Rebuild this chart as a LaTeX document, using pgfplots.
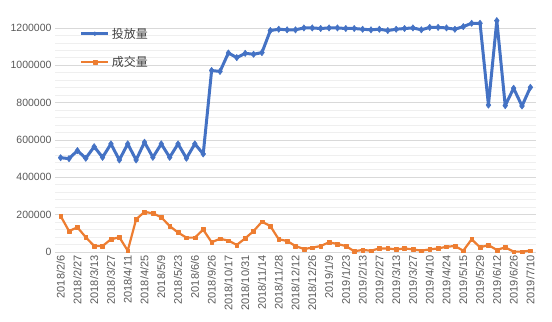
\documentclass[border=0pt]{standalone}
\usepackage{pgfplots}
\usepackage{pgfplotstable}
\pgfplotsset{compat=1.18}
\usepackage{fontspec}
\setmainfont{Liberation Sans}
\newfontfamily\cjk{Noto Sans CJK SC}
\definecolor{exblue}{HTML}{4472C4}
\definecolor{exorange}{HTML}{ED7D31}
\definecolor{majgrid}{HTML}{D9D9D9}
\definecolor{mingrid}{HTML}{EFEFEF}
\definecolor{txt}{HTML}{595959}
\definecolor{legtxt}{HTML}{404040}

\pgfplotstableread{
x blue orange
1 505000 193000
2 500000 112000
3 543000 132000
4 502000 79000
5 564000 32000
6 507000 32000
7 579000 68000
8 493000 79000
9 579000 7000
10 493000 175000
11 588000 215000
12 507000 207000
13 579000 186000
14 507000 139000
15 579000 104000
16 502000 77000
17 579000 77000
18 525000 120000
19 972000 52000
20 967000 71000
21 1066000 61000
22 1041000 38000
23 1064000 73000
24 1059000 112000
25 1068000 162000
26 1186000 139000
27 1193000 68000
28 1190000 59000
29 1190000 32000
30 1200000 16000
31 1200000 23000
32 1197000 32000
33 1200000 52000
34 1200000 43000
35 1197000 32000
36 1197000 4000
37 1193000 11000
38 1190000 7000
39 1193000 19000
40 1186000 19000
41 1193000 14000
42 1197000 19000
43 1200000 14000
44 1190000 7000
45 1203000 14000
46 1203000 19000
47 1200000 28000
48 1193000 32000
49 1207000 7000
50 1225000 68000
51 1225000 25000
52 787000 37000
53 1239000 11000
54 784000 25000
55 877000 2000
56 782000 2000
57 882000 7000
}\datatable

\begin{document}
\begin{tikzpicture}
\begin{axis}[
  name=ax,
  scale only axis,
  width=481bp, height=239bp,
  xmin=0.33, xmax=57.67,
  ymin=0, ymax=1280000,
  xtick={1,3,...,57},
  xticklabels={2018/2/6,2018/2/27,2018/3/13,2018/3/27,2018/4/11,2018/4/25,2018/5/9,2018/5/23,2018/6/6,2018/9/26,2018/10/17,2018/10/31,2018/11/14,2018/11/28,2018/12/12,2018/12/26,2019/1/9,2019/1/23,2019/2/13,2019/2/27,2019/3/13,2019/3/27,2019/4/10,2019/4/24,2019/5/15,2019/5/29,2019/6/12,2019/6/26,2019/7/10},
  x tick label style={rotate=90, anchor=east, font=\fontsize{11bp}{12bp}\selectfont, text=txt},
  ytick={0,200000,...,1200000},
  minor y tick num=4,
  scaled y ticks=false,
  y tick label style={/pgf/number format/fixed, /pgf/number format/1000 sep={}, font=\fontsize{10.5bp}{12bp}\selectfont, text=txt},
  /pgf/number format/assume math mode=true,
  ymajorgrids, yminorgrids,
  major grid style={majgrid, line width=0.8bp},
  minor grid style={mingrid, line width=0.7bp},
  major tick length=0pt, minor tick length=0pt,
  axis line style={draw=none},
  legend style={draw=none, fill=none, at={(0.045,0.955)}, anchor=north west,
    font=\fontsize{12bp}{14bp}\selectfont, text=legtxt, row sep=13bp,
    legend cell align=left},
  legend image code/.code={
    \draw[#1, mark=none] (0bp,0bp) -- (27bp,0bp);
    \draw[#1, only marks, mark size=2bp] plot coordinates {(13.5bp,0bp)};
  },
]
\addplot[exblue, line width=3bp, line join=round, mark=diamond*, mark size=3.2bp,
  mark options={solid, fill=exblue, line width=0.5bp}] table[x=x, y=blue] {\datatable};
\addlegendentry{\cjk 投放量}
\addplot[exorange, line width=2.2bp, line join=round, mark=square*, mark size=1.9bp,
  mark options={solid, fill=exorange, line width=0.4bp}] table[x=x, y=orange] {\datatable};
\addlegendentry{\cjk 成交量}
\end{axis}
\pgfresetboundingbox
\path[use as bounding box] ([shift={(-55bp,-70bp)}]ax.south west) rectangle ([shift={(16bp,13bp)}]ax.north east);
\end{tikzpicture}
\end{document}
